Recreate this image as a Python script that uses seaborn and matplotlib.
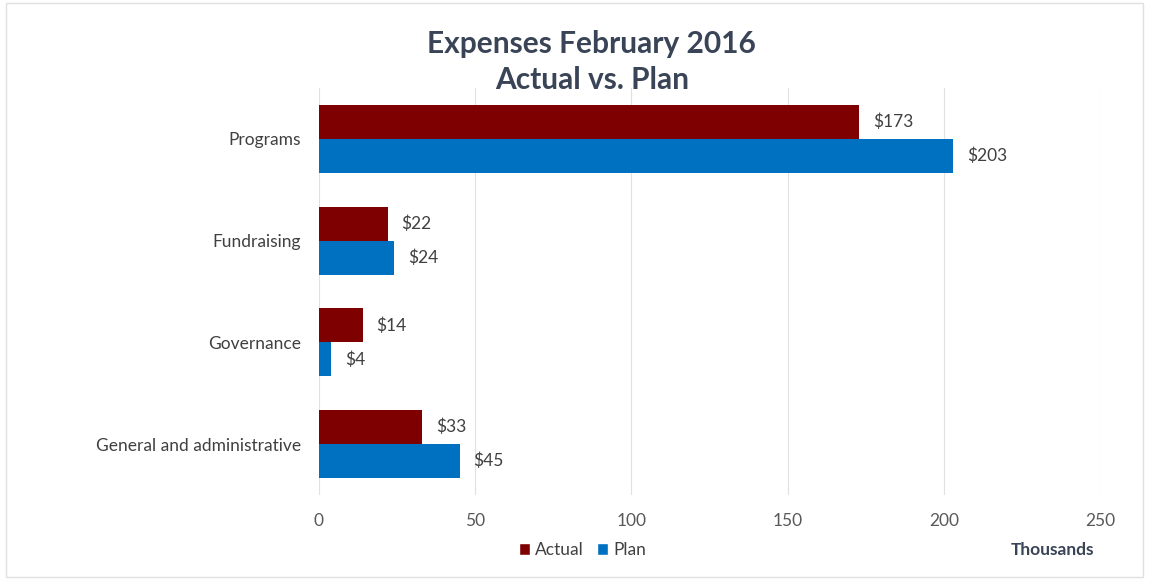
import matplotlib
matplotlib.use("Agg")
import matplotlib.pyplot as plt
import seaborn as sns
import pandas as pd
from matplotlib.patches import Rectangle, Patch

categories = ["Programs", "Fundraising", "Governance", "General and administrative"]
actual = [173, 22, 14, 33]
plan = [203, 24, 4, 45]
series = ["Actual", "Plan"]
colors = ["#7F0000", "#0070C0"]
xticks = [0, 50, 100, 150, 200, 250]

df = pd.DataFrame({
    "category": categories * 2,
    "value": actual + plan,
    "series": ["Actual"] * len(categories) + ["Plan"] * len(categories),
})

sns.set_theme(style="white")
plt.rcParams["font.family"] = ["Lato", "DejaVu Sans"]

fig = plt.figure(figsize=(11.49, 5.8), dpi=100)
ax = fig.add_axes([0.2776, 0.1466, 0.6798, 0.7017])

sns.barplot(data=df, y="category", x="value", hue="series", order=categories,
            hue_order=series, palette=colors, orient="h", width=0.67,
            saturation=1, ax=ax, legend=False, linewidth=0, edgecolor="none")

for cont in ax.containers:
    ax.bar_label(cont, labels=[f"${v:.0f}" for v in cont.datavalues],
                 padding=10, fontsize=12.5, color="#404040")

ax.set_xlim(0, 250)
ax.set_ylim(3.5, -0.5)
ax.set_xticks(xticks)
ax.set_xticklabels([str(t) for t in xticks])
ax.grid(axis="x", color="#E0E0E0", linewidth=0.8)
ax.set_axisbelow(True)
for s in ax.spines.values():
    s.set_visible(False)
ax.tick_params(axis="x", colors="#595959", labelsize=12.5, length=0, pad=13)
ax.tick_params(axis="y", colors="#404040", labelsize=12.5, length=0, pad=13)
ax.set_xlabel("")
ax.set_ylabel("")

fig.text(0.515, 0.925, "Expenses February 2016", ha="center", va="center",
         fontsize=21.5, fontweight="bold", color="#3A4457")
fig.text(0.515, 0.862, "Actual vs. Plan", ha="center", va="center",
         fontsize=21.5, fontweight="bold", color="#3A4457")

handles = [Patch(facecolor=c, label=s) for s, c in zip(series, colors)]
fig.legend(handles=handles, loc="center", bbox_to_anchor=(0.507, 0.052), ncol=2,
           frameon=False, fontsize=12.5, handlelength=0.6, handleheight=0.7,
           handletextpad=0.3, columnspacing=0.8, labelcolor="#404040")

fig.text(0.952, 0.052, "Thousands", ha="right", va="center", fontsize=12.5,
         fontweight="bold", color="#3A4457")

fig.patches.append(Rectangle((0.005, 0.005), 0.99, 0.99, transform=fig.transFigure,
                             fill=False, edgecolor="#E0E0E0", linewidth=1))

fig.savefig("out.png", dpi=100, facecolor="white")
